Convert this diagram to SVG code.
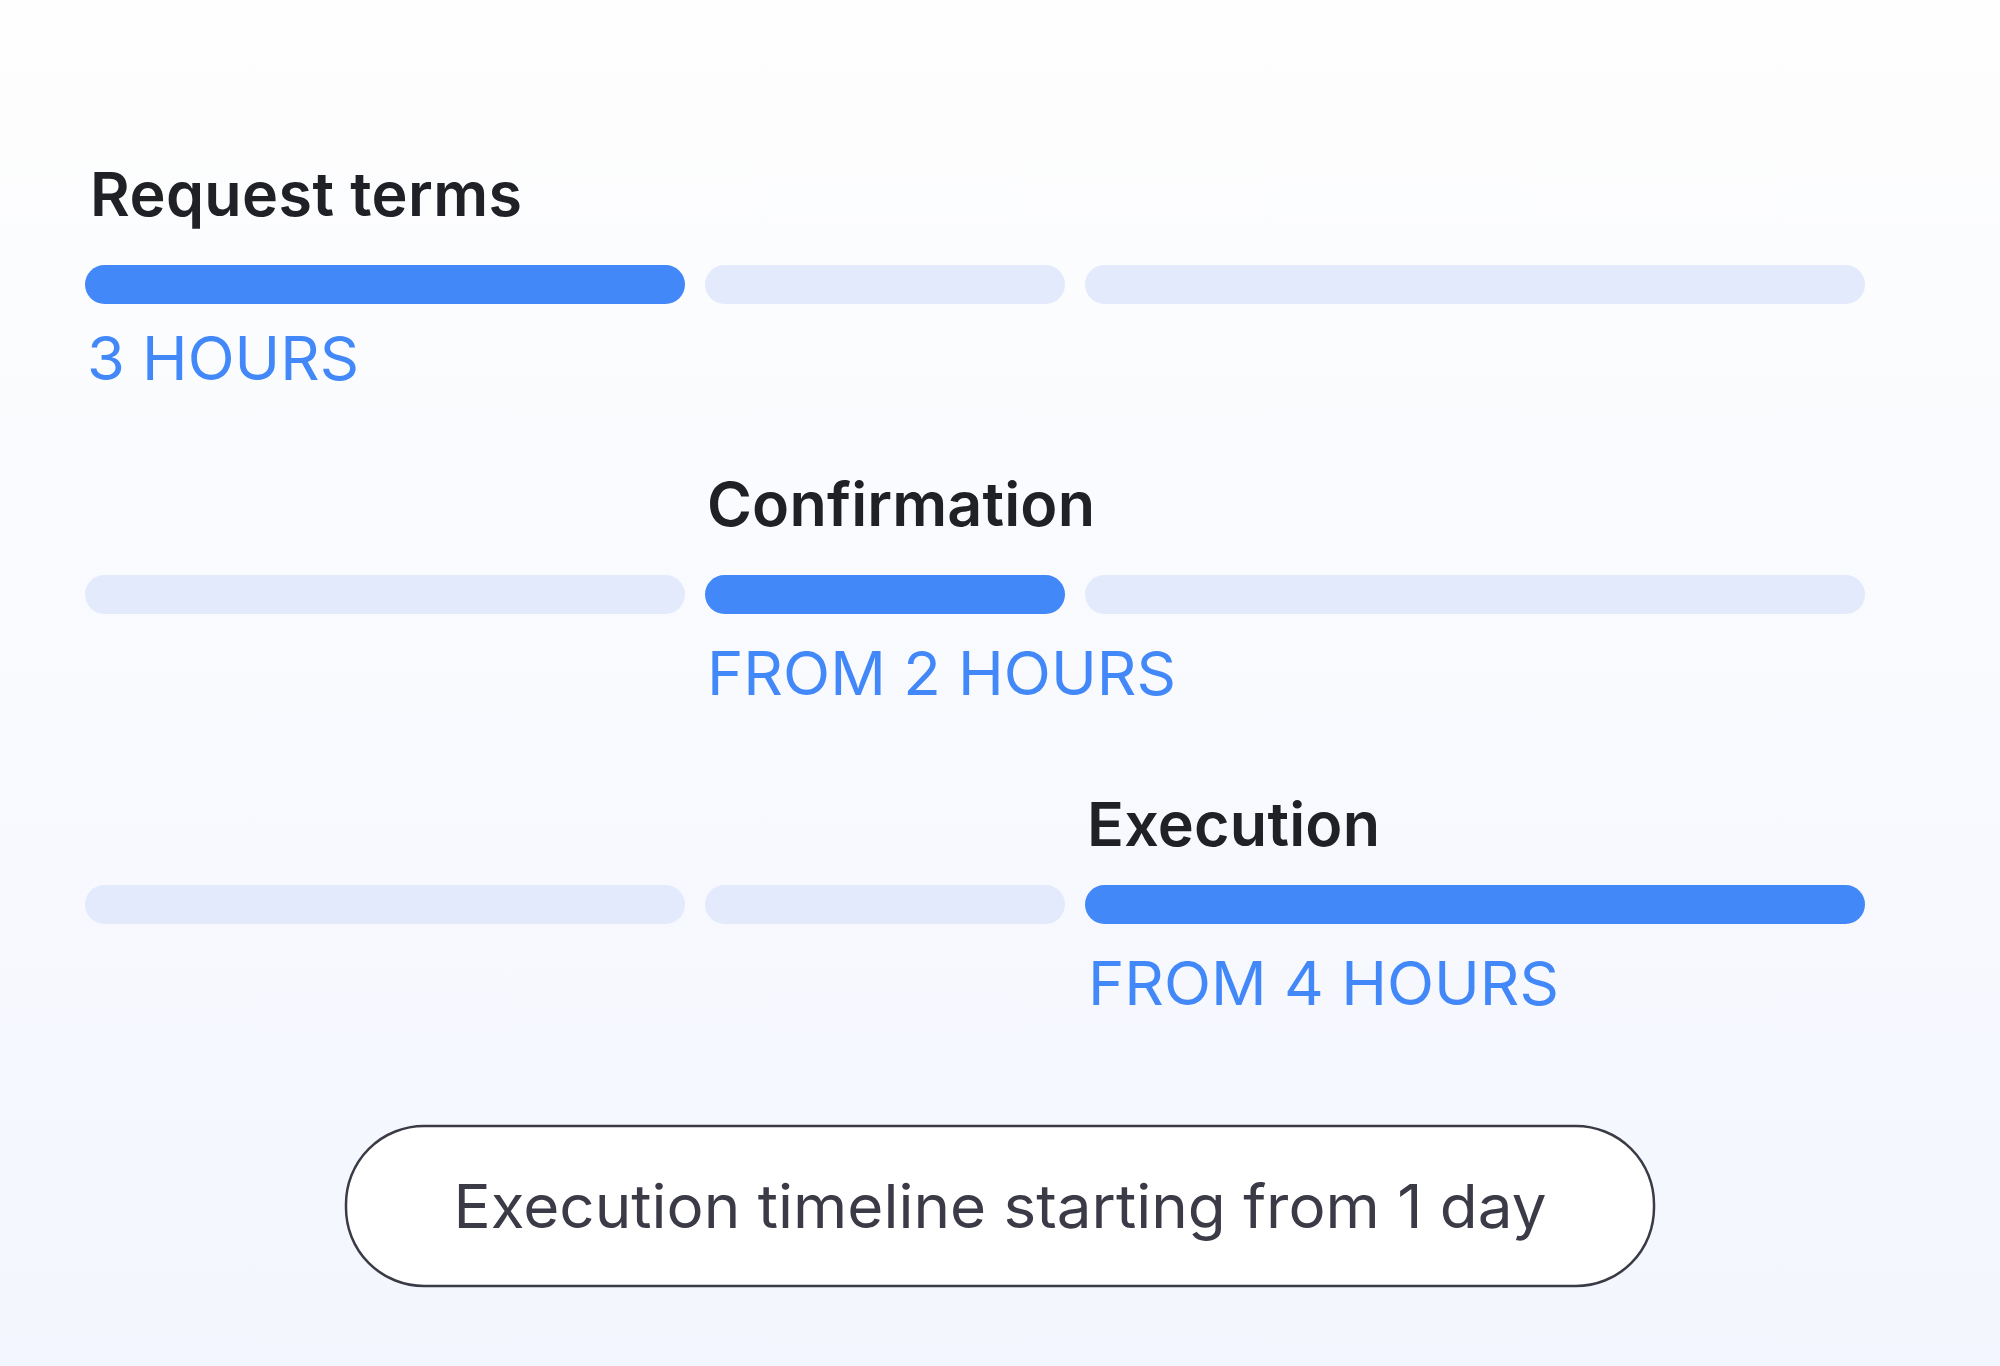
<svg xmlns="http://www.w3.org/2000/svg" width="2000" height="1366" viewBox="0 0 2000 1366">
  <defs>
    <linearGradient id="bg" x1="0" y1="0" x2="0" y2="1">
      <stop offset="0" stop-color="#fefefe"/>
      <stop offset="1" stop-color="#f3f6fe"/>
    </linearGradient>
  </defs>
  <style>
    .title { font-family: Inter, "Liberation Sans", sans-serif; font-weight: 600; font-size: 61px; fill: #202127; }
    .sub { font-family: Inter, "Liberation Sans", sans-serif; font-weight: 400; font-size: 60px; fill: #4388f8; }
    .on { fill: #4388f8; }
    .off { fill: #e2eafc; }
    .pill { fill: #ffffff; stroke: #3a3b46; stroke-width: 2.5; }
    .pilltext { font-family: Inter, "Liberation Sans", sans-serif; font-weight: 400; font-size: 60px; fill: #3a3b46; }
  </style>
  <rect x="0" y="0" width="2000" height="1366" fill="url(#bg)"/>

  <g id="request-terms">
    <text class="title" x="90" y="216" textLength="432">Request terms</text>
    <rect class="on" x="85" y="265" width="600" height="39" rx="19.5"/>
    <rect class="off" x="705" y="265" width="360" height="39" rx="19.5"/>
    <rect class="off" x="1085" y="265" width="780" height="39" rx="19.5"/>
    <text class="sub" x="87" y="380" textLength="272" lengthAdjust="spacingAndGlyphs">3 HOURS</text>
  </g>

  <g id="confirmation">
    <text class="title" x="707" y="526" textLength="388">Confirmation</text>
    <rect class="off" x="85" y="575" width="600" height="39" rx="19.5"/>
    <rect class="on" x="705" y="575" width="360" height="39" rx="19.5"/>
    <rect class="off" x="1085" y="575" width="780" height="39" rx="19.5"/>
    <text class="sub" x="707" y="695" textLength="469" lengthAdjust="spacingAndGlyphs">FROM 2 HOURS</text>
  </g>

  <g id="execution">
    <text class="title" x="1087" y="846" textLength="293">Execution</text>
    <rect class="off" x="85" y="885" width="600" height="39" rx="19.5"/>
    <rect class="off" x="705" y="885" width="360" height="39" rx="19.5"/>
    <rect class="on" x="1085" y="885" width="780" height="39" rx="19.5"/>
    <text class="sub" x="1088" y="1005" textLength="471" lengthAdjust="spacingAndGlyphs">FROM 4 HOURS</text>
  </g>

  <g id="timeline-note">
    <rect class="pill" x="346" y="1126" width="1308" height="160" rx="78"/>
    <text class="pilltext" x="1000" y="1228" text-anchor="middle" textLength="1093" lengthAdjust="spacingAndGlyphs">Execution timeline starting from 1 day</text>
  </g>

  <g id="connectors"/>
</svg>
